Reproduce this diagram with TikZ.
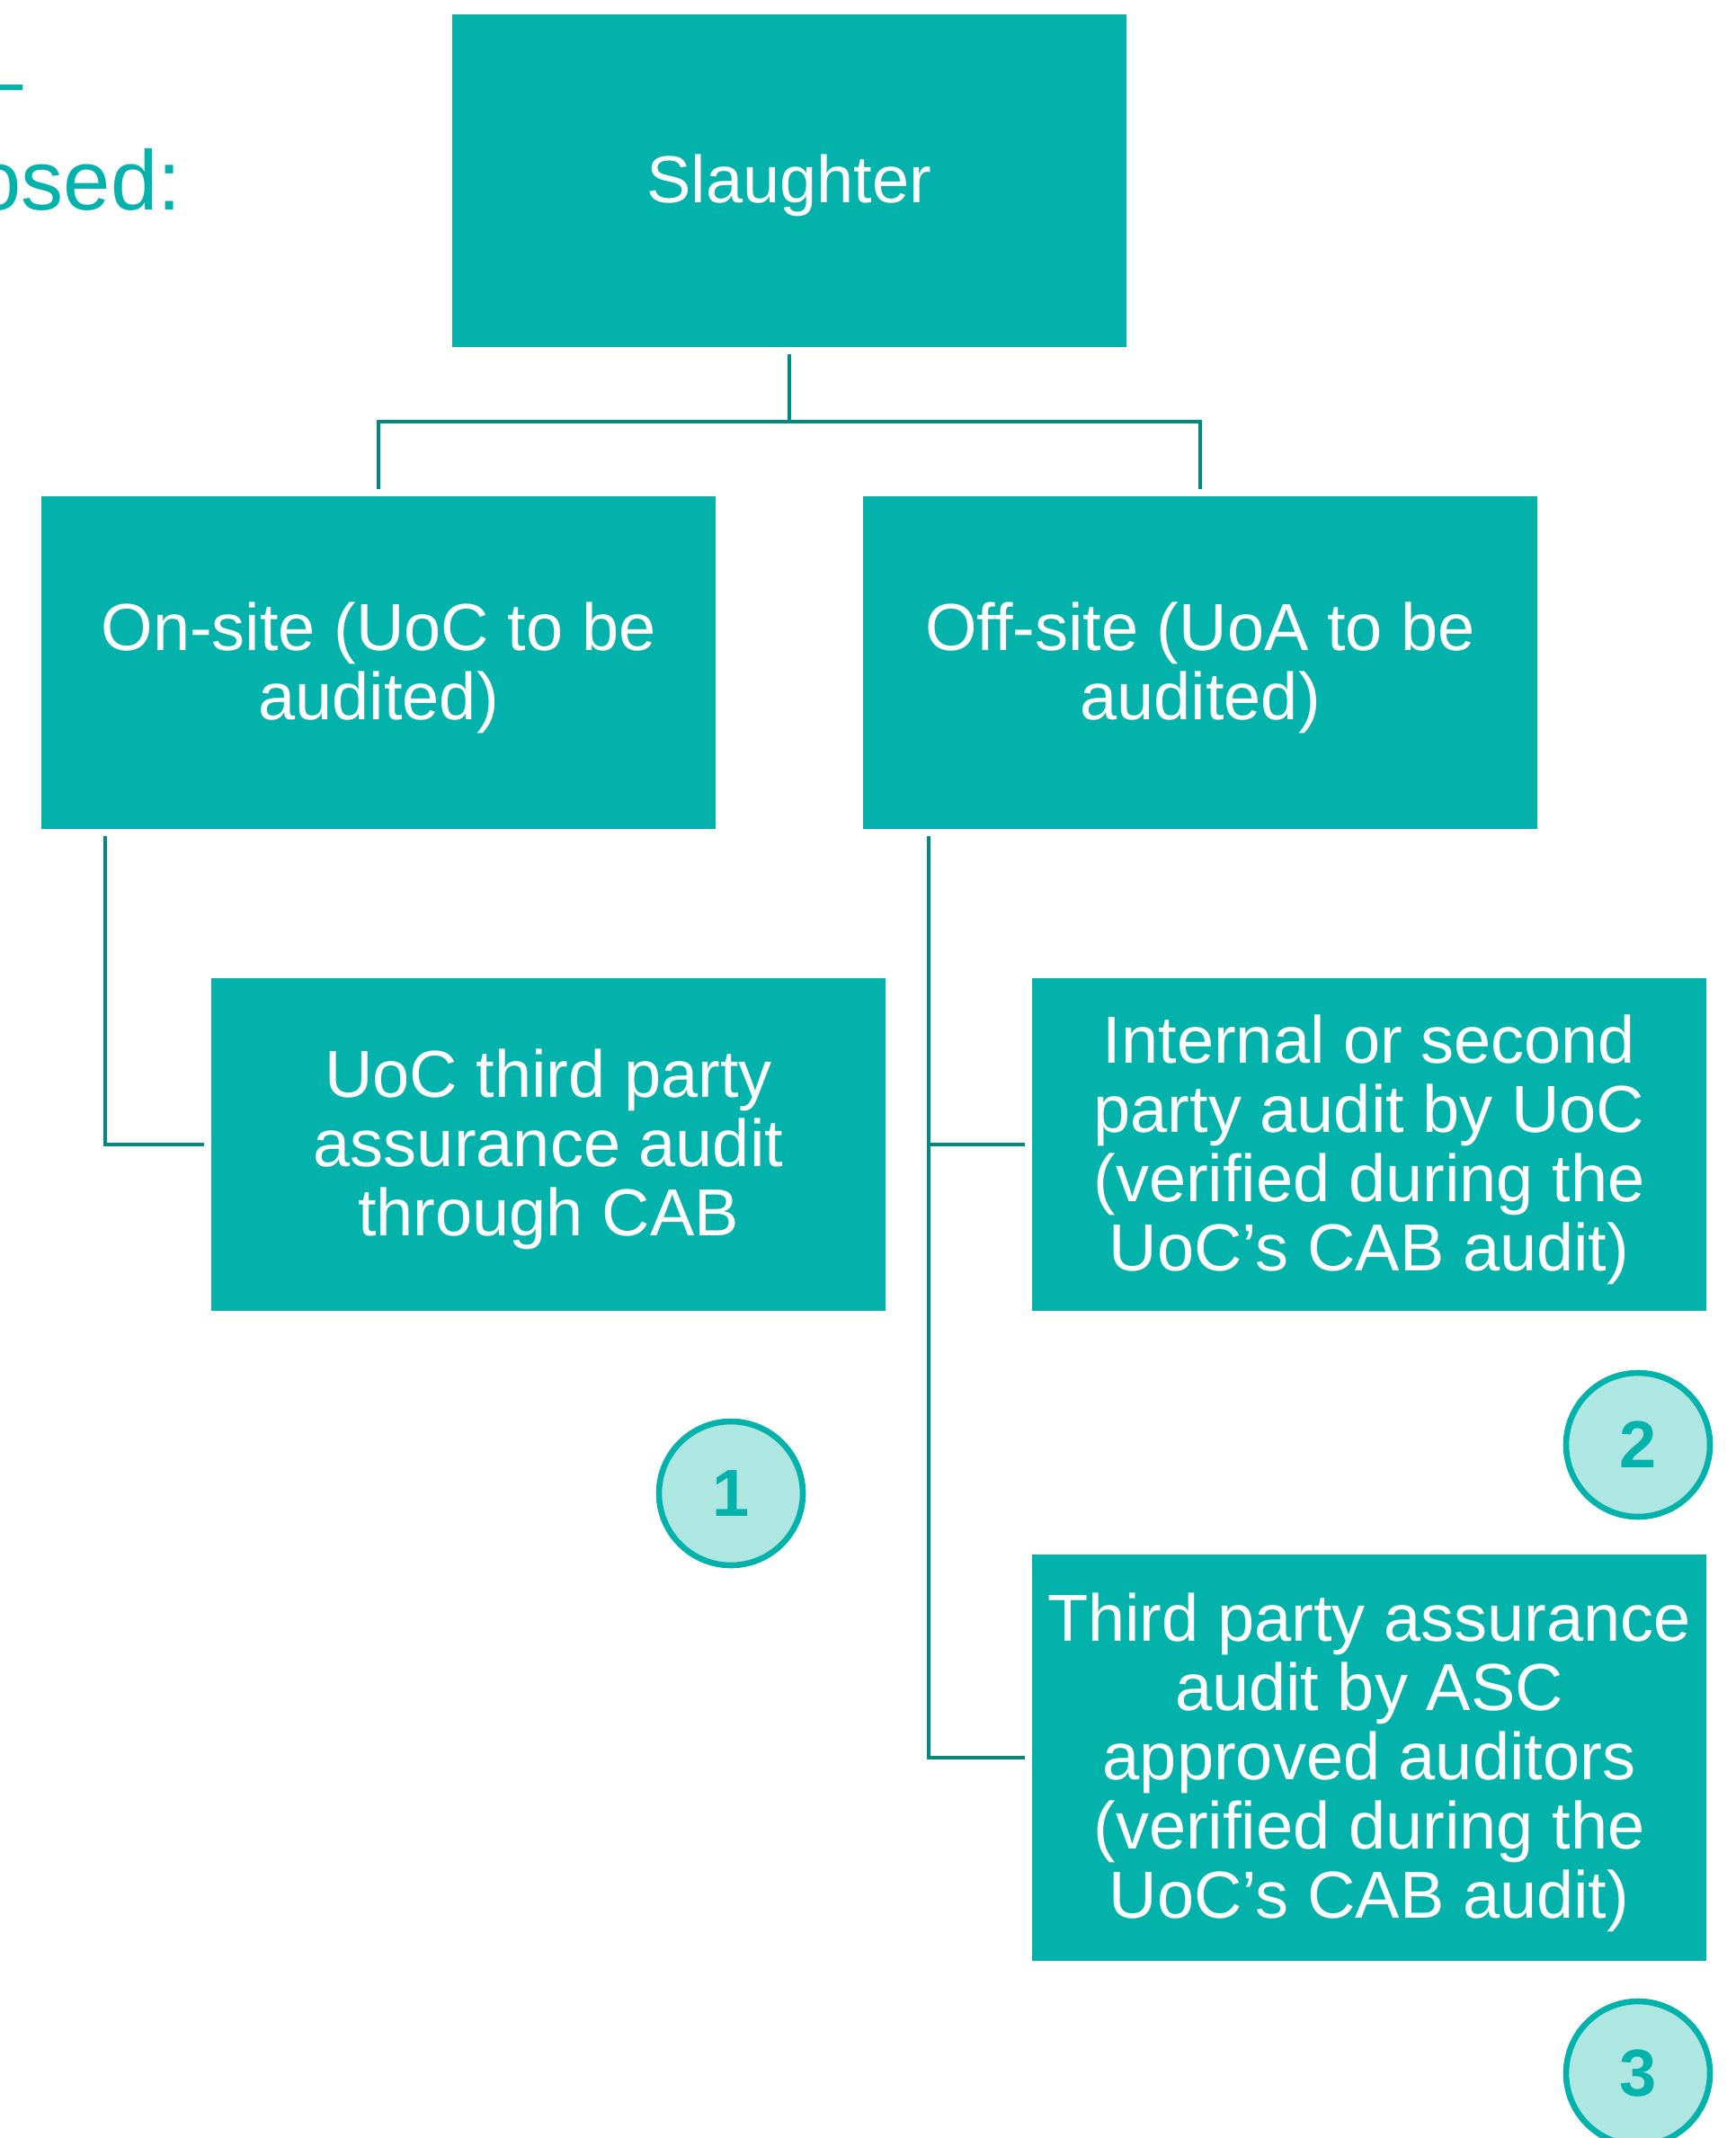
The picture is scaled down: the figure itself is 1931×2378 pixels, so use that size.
\documentclass[tikz,border=0pt]{standalone}
\usepackage{fontspec}
\setmainfont{Liberation Sans}
\usetikzlibrary{calc}
\definecolor{boxteal}{HTML}{02B2AB}
\definecolor{lineteal}{HTML}{008A82}
\definecolor{paleteal}{HTML}{AEE6E2}

\begin{document}
\begin{tikzpicture}[x=0.5pt, y=-0.5pt,
		box/.style={fill=boxteal, text=white, minimum width=375pt, minimum height=185pt, align=center, inner sep=0pt, text depth=2pt, font=\fontsize{37}{38.5}\selectfont},
		conn/.style={draw=lineteal, line width=2pt, shorten <=4pt, shorten >=4pt},
		num/.style={circle, draw=boxteal, line width=3.3pt, fill=paleteal, minimum size=80pt, inner sep=0pt, text=boxteal, font=\fontsize{37}{38}\selectfont\bfseries},
		title/.style={anchor=base east, inner sep=0pt, text=boxteal, font=\fontsize{47}{55}\selectfont}]
		\clip (0,0) rectangle (1931,2378);
		
		\node[title] (dash) at (26,121) {–};
		\node[title] (posed) at (202,233) {osed:};
		
		\node[box] (slaughter) at (878,201) {Slaughter};
		\node[box] (onsite) at (421,737) {On-site (UoC to be\\audited)};
		\node[box] (offsite) at (1335,737) {Off-site (UoA to be\\audited)};
		\node[box] (uoc) at (610,1273) {UoC third party\\assurance audit\\through CAB};
		\node[box] (internal) at (1523,1273) {Internal or second\\party audit by UoC\\(verified during the\\UoC’s CAB audit)};
		\node[box, minimum height=226pt] (third) at (1523,1955) {Third party assurance\\audit by ASC\\approved auditors\\(verified during the\\UoC’s CAB audit)};
		
		\draw[conn] (slaughter.south) -- ++(0,83) -| (onsite.north);
		\draw[conn] (slaughter.south) -- ++(0,83) -| (offsite.north);
		\draw[conn] ($(onsite.south west)+(71,0)$) |- (uoc.west);
		\draw[conn] ($(offsite.south west)+(73,0)$) |- (internal.west);
		\draw[conn] ($(offsite.south west)+(73,0)$) |- (third.west);
		
		\node[num] (one) at (813,1661) {1};
		\node[num] (two) at (1822,1607) {2};
		\node[num] (three) at (1822,2306) {3};
		
	\end{tikzpicture}
\end{document}
